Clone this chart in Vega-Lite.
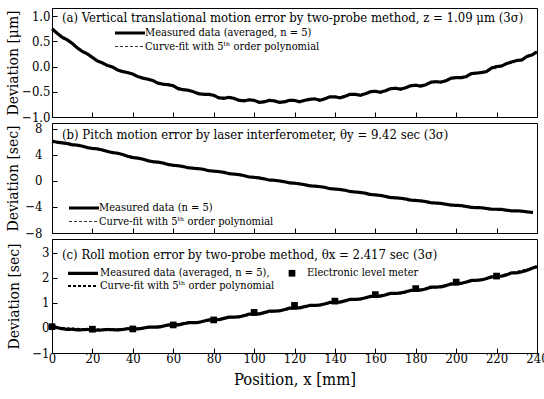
{
  "$schema": "https://vega.github.io/schema/vega-lite/v6.json",
  "background": "white",
  "padding": {"left": 5, "top": 7, "right": 5, "bottom": 5},
  "config": {
    "font": "DejaVu Serif Condensed, DejaVu Serif",
    "view": {"stroke": "black", "strokeWidth": 1},
    "axis": {"labelFont": "DejaVu Serif Condensed, DejaVu Serif", "labelFontSize": 13, "labelColor": "black", "titleFont": "DejaVu Serif Condensed, DejaVu Serif", "titleFontSize": 15.5, "titleFontWeight": "normal", "titleColor": "black", "domainColor": "black", "tickColor": "black", "grid": false, "tickSize": -5, "labelPadding": 7, "labelOverlap": false, "labelFlush": false, "labelBound": false},
    "legend": {"labelFont": "DejaVu Serif Condensed, DejaVu Serif", "labelFontSize": 11, "labelColor": "black", "labelLimit": 400, "symbolStrokeColor": "black", "symbolSize": 100, "symbolType": "M-1,0H5", "padding": 0, "rowPadding": 0, "labelOffset": 18, "columnPadding": 22, "title": null},
    "title": {"font": "DejaVu Serif Condensed, DejaVu Serif", "fontSize": 13, "fontWeight": "normal", "color": "black", "anchor": "start", "frame": "group", "offset": -17, "dx": 10},
    "concat": {"spacing": 6}
  },
  "bounds": "flush",
  "resolve": {"scale": {"strokeDash": "independent", "strokeWidth": "independent"}, "legend": {"strokeDash": "independent", "strokeWidth": "independent"}},
  "datasets": {
    "a": [
      {"x": 0, "y": 0.75, "s": "m"}, {"x": 2.5, "y": 0.66, "s": "m"}, {"x": 5, "y": 0.58, "s": "m"}, {"x": 7.5, "y": 0.53, "s": "m"}, {"x": 10, "y": 0.46, "s": "m"}, {"x": 12.5, "y": 0.37, "s": "m"}, {"x": 15, "y": 0.3, "s": "m"}, {"x": 17.5, "y": 0.25, "s": "m"}, {"x": 20, "y": 0.18, "s": "m"}, {"x": 22.5, "y": 0.11, "s": "m"}, {"x": 25, "y": 0.07, "s": "m"}, {"x": 27.5, "y": 0.02, "s": "m"}, {"x": 30, "y": -0.01, "s": "m"}, {"x": 32.5, "y": -0.07, "s": "m"}, {"x": 35, "y": -0.1, "s": "m"}, {"x": 37.5, "y": -0.12, "s": "m"}, {"x": 40, "y": -0.15, "s": "m"}, {"x": 42.5, "y": -0.2, "s": "m"}, {"x": 45, "y": -0.23, "s": "m"}, {"x": 47.5, "y": -0.25, "s": "m"}, {"x": 50, "y": -0.28, "s": "m"}, {"x": 52.5, "y": -0.33, "s": "m"}, {"x": 55, "y": -0.35, "s": "m"}, {"x": 57.5, "y": -0.36, "s": "m"}, {"x": 60, "y": -0.38, "s": "m"}, {"x": 62.5, "y": -0.44, "s": "m"}, {"x": 65, "y": -0.46, "s": "m"}, {"x": 67.5, "y": -0.47, "s": "m"}, {"x": 70, "y": -0.5, "s": "m"}, {"x": 72.5, "y": -0.54, "s": "m"}, {"x": 75, "y": -0.55, "s": "m"}, {"x": 77.5, "y": -0.55, "s": "m"}, {"x": 80, "y": -0.57, "s": "m"}, {"x": 82.5, "y": -0.62, "s": "m"}, {"x": 85, "y": -0.63, "s": "m"}, {"x": 87.5, "y": -0.61, "s": "m"}, {"x": 90, "y": -0.63, "s": "m"}, {"x": 92.5, "y": -0.67, "s": "m"}, {"x": 95, "y": -0.68, "s": "m"}, {"x": 97.5, "y": -0.66, "s": "m"}, {"x": 100, "y": -0.67, "s": "m"}, {"x": 102.5, "y": -0.71, "s": "m"}, {"x": 105, "y": -0.7, "s": "m"}, {"x": 107.5, "y": -0.67, "s": "m"}, {"x": 110, "y": -0.68, "s": "m"}, {"x": 112.5, "y": -0.71, "s": "m"}, {"x": 115, "y": -0.7, "s": "m"}, {"x": 117.5, "y": -0.67, "s": "m"}, {"x": 120, "y": -0.67, "s": "m"}, {"x": 122.5, "y": -0.7, "s": "m"}, {"x": 125, "y": -0.67, "s": "m"}, {"x": 127.5, "y": -0.65, "s": "m"}, {"x": 130, "y": -0.64, "s": "m"}, {"x": 132.5, "y": -0.67, "s": "m"}, {"x": 135, "y": -0.64, "s": "m"}, {"x": 137.5, "y": -0.6, "s": "m"}, {"x": 140, "y": -0.6, "s": "m"}, {"x": 142.5, "y": -0.62, "s": "m"}, {"x": 145, "y": -0.59, "s": "m"}, {"x": 147.5, "y": -0.55, "s": "m"}, {"x": 150, "y": -0.55, "s": "m"}, {"x": 152.5, "y": -0.57, "s": "m"}, {"x": 155, "y": -0.54, "s": "m"}, {"x": 157.5, "y": -0.5, "s": "m"}, {"x": 160, "y": -0.49, "s": "m"}, {"x": 162.5, "y": -0.51, "s": "m"}, {"x": 165, "y": -0.48, "s": "m"}, {"x": 167.5, "y": -0.44, "s": "m"}, {"x": 170, "y": -0.43, "s": "m"}, {"x": 172.5, "y": -0.45, "s": "m"}, {"x": 175, "y": -0.42, "s": "m"}, {"x": 177.5, "y": -0.38, "s": "m"}, {"x": 180, "y": -0.37, "s": "m"}, {"x": 182.5, "y": -0.39, "s": "m"}, {"x": 185, "y": -0.36, "s": "m"}, {"x": 187.5, "y": -0.31, "s": "m"}, {"x": 190, "y": -0.3, "s": "m"}, {"x": 192.5, "y": -0.31, "s": "m"}, {"x": 195, "y": -0.28, "s": "m"}, {"x": 197.5, "y": -0.23, "s": "m"}, {"x": 200, "y": -0.22, "s": "m"}, {"x": 202.5, "y": -0.22, "s": "m"}, {"x": 205, "y": -0.2, "s": "m"}, {"x": 207.5, "y": -0.14, "s": "m"}, {"x": 210, "y": -0.13, "s": "m"}, {"x": 212.5, "y": -0.12, "s": "m"}, {"x": 215, "y": -0.1, "s": "m"}, {"x": 217.5, "y": -0.03, "s": "m"}, {"x": 220, "y": 0.0, "s": "m"}, {"x": 222.5, "y": 0.01, "s": "m"}, {"x": 225, "y": 0.06, "s": "m"}, {"x": 227.5, "y": 0.09, "s": "m"}, {"x": 230, "y": 0.12, "s": "m"}, {"x": 232.5, "y": 0.13, "s": "m"}, {"x": 235, "y": 0.2, "s": "m"}, {"x": 237.5, "y": 0.23, "s": "m"}, {"x": 240, "y": 0.29, "s": "m"},
      {"x": 0, "y": 0.73, "s": "f"}, {"x": 10, "y": 0.45, "s": "f"}, {"x": 20, "y": 0.18, "s": "f"}, {"x": 30, "y": -0.02, "s": "f"}, {"x": 40, "y": -0.16, "s": "f"}, {"x": 50, "y": -0.29, "s": "f"}, {"x": 60, "y": -0.39, "s": "f"}, {"x": 70, "y": -0.49, "s": "f"}, {"x": 80, "y": -0.58, "s": "f"}, {"x": 90, "y": -0.64, "s": "f"}, {"x": 100, "y": -0.68, "s": "f"}, {"x": 110, "y": -0.69, "s": "f"}, {"x": 120, "y": -0.68, "s": "f"}, {"x": 130, "y": -0.65, "s": "f"}, {"x": 140, "y": -0.61, "s": "f"}, {"x": 150, "y": -0.56, "s": "f"}, {"x": 160, "y": -0.5, "s": "f"}, {"x": 170, "y": -0.44, "s": "f"}, {"x": 180, "y": -0.38, "s": "f"}, {"x": 190, "y": -0.31, "s": "f"}, {"x": 200, "y": -0.23, "s": "f"}, {"x": 210, "y": -0.14, "s": "f"}, {"x": 220, "y": -0.03, "s": "f"}, {"x": 230, "y": 0.11, "s": "f"}, {"x": 240, "y": 0.28, "s": "f"}
    ],
    "b": [
      {"x": 0, "y": 6.1, "s": "m"}, {"x": 2.5, "y": 5.95, "s": "m"}, {"x": 5, "y": 5.85, "s": "m"}, {"x": 7.5, "y": 5.75, "s": "m"}, {"x": 10, "y": 5.55, "s": "m"}, {"x": 12.5, "y": 5.5, "s": "m"}, {"x": 15, "y": 5.35, "s": "m"}, {"x": 17.5, "y": 5.12, "s": "m"}, {"x": 20, "y": 5.0, "s": "m"}, {"x": 22.5, "y": 4.92, "s": "m"}, {"x": 25, "y": 4.75, "s": "m"}, {"x": 27.5, "y": 4.52, "s": "m"}, {"x": 30, "y": 4.35, "s": "m"}, {"x": 32.5, "y": 4.25, "s": "m"}, {"x": 35, "y": 4.05, "s": "m"}, {"x": 37.5, "y": 3.78, "s": "m"}, {"x": 40, "y": 3.6, "s": "m"}, {"x": 42.5, "y": 3.5, "s": "m"}, {"x": 45, "y": 3.35, "s": "m"}, {"x": 47.5, "y": 3.1, "s": "m"}, {"x": 50, "y": 2.95, "s": "m"}, {"x": 52.5, "y": 2.88, "s": "m"}, {"x": 55, "y": 2.75, "s": "m"}, {"x": 57.5, "y": 2.52, "s": "m"}, {"x": 60, "y": 2.4, "s": "m"}, {"x": 62.5, "y": 2.33, "s": "m"}, {"x": 65, "y": 2.2, "s": "m"}, {"x": 67.5, "y": 2.02, "s": "m"}, {"x": 70, "y": 1.95, "s": "m"}, {"x": 72.5, "y": 1.88, "s": "m"}, {"x": 75, "y": 1.78, "s": "m"}, {"x": 77.5, "y": 1.58, "s": "m"}, {"x": 80, "y": 1.5, "s": "m"}, {"x": 82.5, "y": 1.44, "s": "m"}, {"x": 85, "y": 1.32, "s": "m"}, {"x": 87.5, "y": 1.12, "s": "m"}, {"x": 90, "y": 1.05, "s": "m"}, {"x": 92.5, "y": 0.97, "s": "m"}, {"x": 95, "y": 0.82, "s": "m"}, {"x": 97.5, "y": 0.62, "s": "m"}, {"x": 100, "y": 0.55, "s": "m"}, {"x": 102.5, "y": 0.46, "s": "m"}, {"x": 105, "y": 0.32, "s": "m"}, {"x": 107.5, "y": 0.14, "s": "m"}, {"x": 110, "y": 0.1, "s": "m"}, {"x": 112.5, "y": 0.0, "s": "m"}, {"x": 115, "y": -0.12, "s": "m"}, {"x": 117.5, "y": -0.3, "s": "m"}, {"x": 120, "y": -0.35, "s": "m"}, {"x": 122.5, "y": -0.45, "s": "m"}, {"x": 125, "y": -0.58, "s": "m"}, {"x": 127.5, "y": -0.75, "s": "m"}, {"x": 130, "y": -0.8, "s": "m"}, {"x": 132.5, "y": -0.88, "s": "m"}, {"x": 135, "y": -0.98, "s": "m"}, {"x": 137.5, "y": -1.18, "s": "m"}, {"x": 140, "y": -1.25, "s": "m"}, {"x": 142.5, "y": -1.32, "s": "m"}, {"x": 145, "y": -1.43, "s": "m"}, {"x": 147.5, "y": -1.62, "s": "m"}, {"x": 150, "y": -1.7, "s": "m"}, {"x": 152.5, "y": -1.77, "s": "m"}, {"x": 155, "y": -1.88, "s": "m"}, {"x": 157.5, "y": -2.08, "s": "m"}, {"x": 160, "y": -2.15, "s": "m"}, {"x": 162.5, "y": -2.22, "s": "m"}, {"x": 165, "y": -2.38, "s": "m"}, {"x": 167.5, "y": -2.55, "s": "m"}, {"x": 170, "y": -2.6, "s": "m"}, {"x": 172.5, "y": -2.66, "s": "m"}, {"x": 175, "y": -2.78, "s": "m"}, {"x": 177.5, "y": -2.95, "s": "m"}, {"x": 180, "y": -3.0, "s": "m"}, {"x": 182.5, "y": -3.06, "s": "m"}, {"x": 185, "y": -3.18, "s": "m"}, {"x": 187.5, "y": -3.35, "s": "m"}, {"x": 190, "y": -3.4, "s": "m"}, {"x": 192.5, "y": -3.45, "s": "m"}, {"x": 195, "y": -3.58, "s": "m"}, {"x": 197.5, "y": -3.72, "s": "m"}, {"x": 200, "y": -3.75, "s": "m"}, {"x": 202.5, "y": -3.8, "s": "m"}, {"x": 205, "y": -3.93, "s": "m"}, {"x": 207.5, "y": -4.06, "s": "m"}, {"x": 210, "y": -4.1, "s": "m"}, {"x": 212.5, "y": -4.12, "s": "m"}, {"x": 215, "y": -4.23, "s": "m"}, {"x": 217.5, "y": -4.35, "s": "m"}, {"x": 220, "y": -4.35, "s": "m"}, {"x": 222.5, "y": -4.38, "s": "m"}, {"x": 225, "y": -4.5, "s": "m"}, {"x": 227.5, "y": -4.6, "s": "m"}, {"x": 230, "y": -4.6, "s": "m"}, {"x": 232.5, "y": -4.64, "s": "m"}, {"x": 235, "y": -4.75, "s": "m"}, {"x": 238, "y": -4.85, "s": "m"},
      {"x": 0, "y": 6.05, "s": "f"}, {"x": 20, "y": 5.0, "s": "f"}, {"x": 40, "y": 3.65, "s": "f"}, {"x": 60, "y": 2.4, "s": "f"}, {"x": 80, "y": 1.5, "s": "f"}, {"x": 100, "y": 0.55, "s": "f"}, {"x": 120, "y": -0.35, "s": "f"}, {"x": 140, "y": -1.25, "s": "f"}, {"x": 160, "y": -2.15, "s": "f"}, {"x": 180, "y": -3.0, "s": "f"}, {"x": 200, "y": -3.75, "s": "f"}, {"x": 220, "y": -4.35, "s": "f"}, {"x": 238, "y": -4.85, "s": "f"}
    ],
    "c": [
      {"x": 0, "y": 0.1, "s": "m"}, {"x": 1.5, "y": 0.04, "s": "m"}, {"x": 3, "y": 0.0, "s": "m"}, {"x": 5, "y": -0.03, "s": "m"}, {"x": 7.5, "y": -0.06, "s": "m"}, {"x": 10, "y": -0.05, "s": "m"}, {"x": 12.5, "y": -0.08, "s": "m"}, {"x": 15, "y": -0.07, "s": "m"}, {"x": 17.5, "y": -0.06, "s": "m"}, {"x": 20, "y": -0.07, "s": "m"}, {"x": 22.5, "y": -0.09, "s": "m"}, {"x": 25, "y": -0.08, "s": "m"}, {"x": 27.5, "y": -0.06, "s": "m"}, {"x": 30, "y": -0.07, "s": "m"}, {"x": 32.5, "y": -0.08, "s": "m"}, {"x": 35, "y": -0.06, "s": "m"}, {"x": 37.5, "y": -0.03, "s": "m"}, {"x": 40, "y": -0.04, "s": "m"}, {"x": 42.5, "y": -0.04, "s": "m"}, {"x": 45, "y": -0.01, "s": "m"}, {"x": 47.5, "y": 0.03, "s": "m"}, {"x": 50, "y": 0.03, "s": "m"}, {"x": 52.5, "y": 0.03, "s": "m"}, {"x": 55, "y": 0.07, "s": "m"}, {"x": 57.5, "y": 0.12, "s": "m"}, {"x": 60, "y": 0.12, "s": "m"}, {"x": 62.5, "y": 0.12, "s": "m"}, {"x": 65, "y": 0.17, "s": "m"}, {"x": 67.5, "y": 0.21, "s": "m"}, {"x": 70, "y": 0.21, "s": "m"}, {"x": 72.5, "y": 0.22, "s": "m"}, {"x": 75, "y": 0.27, "s": "m"}, {"x": 77.5, "y": 0.32, "s": "m"}, {"x": 80, "y": 0.32, "s": "m"}, {"x": 82.5, "y": 0.33, "s": "m"}, {"x": 85, "y": 0.38, "s": "m"}, {"x": 87.5, "y": 0.43, "s": "m"}, {"x": 90, "y": 0.43, "s": "m"}, {"x": 92.5, "y": 0.44, "s": "m"}, {"x": 95, "y": 0.49, "s": "m"}, {"x": 97.5, "y": 0.55, "s": "m"}, {"x": 100, "y": 0.55, "s": "m"}, {"x": 102.5, "y": 0.56, "s": "m"}, {"x": 105, "y": 0.61, "s": "m"}, {"x": 107.5, "y": 0.67, "s": "m"}, {"x": 110, "y": 0.67, "s": "m"}, {"x": 112.5, "y": 0.68, "s": "m"}, {"x": 115, "y": 0.73, "s": "m"}, {"x": 117.5, "y": 0.79, "s": "m"}, {"x": 120, "y": 0.79, "s": "m"}, {"x": 122.5, "y": 0.8, "s": "m"}, {"x": 125, "y": 0.85, "s": "m"}, {"x": 127.5, "y": 0.9, "s": "m"}, {"x": 130, "y": 0.9, "s": "m"}, {"x": 132.5, "y": 0.91, "s": "m"}, {"x": 135, "y": 0.96, "s": "m"}, {"x": 137.5, "y": 1.02, "s": "m"}, {"x": 140, "y": 1.02, "s": "m"}, {"x": 142.5, "y": 1.03, "s": "m"}, {"x": 145, "y": 1.08, "s": "m"}, {"x": 147.5, "y": 1.14, "s": "m"}, {"x": 150, "y": 1.14, "s": "m"}, {"x": 152.5, "y": 1.15, "s": "m"}, {"x": 155, "y": 1.2, "s": "m"}, {"x": 157.5, "y": 1.26, "s": "m"}, {"x": 160, "y": 1.26, "s": "m"}, {"x": 162.5, "y": 1.27, "s": "m"}, {"x": 165, "y": 1.32, "s": "m"}, {"x": 167.5, "y": 1.38, "s": "m"}, {"x": 170, "y": 1.38, "s": "m"}, {"x": 172.5, "y": 1.39, "s": "m"}, {"x": 175, "y": 1.44, "s": "m"}, {"x": 177.5, "y": 1.5, "s": "m"}, {"x": 180, "y": 1.5, "s": "m"}, {"x": 182.5, "y": 1.51, "s": "m"}, {"x": 185, "y": 1.56, "s": "m"}, {"x": 187.5, "y": 1.63, "s": "m"}, {"x": 190, "y": 1.63, "s": "m"}, {"x": 192.5, "y": 1.64, "s": "m"}, {"x": 195, "y": 1.69, "s": "m"}, {"x": 197.5, "y": 1.76, "s": "m"}, {"x": 200, "y": 1.76, "s": "m"}, {"x": 202.5, "y": 1.78, "s": "m"}, {"x": 205, "y": 1.83, "s": "m"}, {"x": 207.5, "y": 1.9, "s": "m"}, {"x": 210, "y": 1.9, "s": "m"}, {"x": 212.5, "y": 1.92, "s": "m"}, {"x": 215, "y": 1.97, "s": "m"}, {"x": 217.5, "y": 2.04, "s": "m"}, {"x": 220, "y": 2.04, "s": "m"}, {"x": 222.5, "y": 2.07, "s": "m"}, {"x": 225, "y": 2.12, "s": "m"}, {"x": 227.5, "y": 2.2, "s": "m"}, {"x": 230, "y": 2.2, "s": "m"}, {"x": 232.5, "y": 2.24, "s": "m"}, {"x": 235, "y": 2.3, "s": "m"}, {"x": 237.5, "y": 2.38, "s": "m"}, {"x": 240, "y": 2.45, "s": "m"},
      {"x": 0, "y": 0.02, "s": "f"}, {"x": 20, "y": -0.07, "s": "f"}, {"x": 40, "y": -0.04, "s": "f"}, {"x": 60, "y": 0.12, "s": "f"}, {"x": 80, "y": 0.32, "s": "f"}, {"x": 100, "y": 0.55, "s": "f"}, {"x": 120, "y": 0.79, "s": "f"}, {"x": 140, "y": 1.02, "s": "f"}, {"x": 160, "y": 1.26, "s": "f"}, {"x": 180, "y": 1.5, "s": "f"}, {"x": 200, "y": 1.76, "s": "f"}, {"x": 220, "y": 2.04, "s": "f"}, {"x": 240, "y": 2.43, "s": "f"}
    ],
    "el": [
      {"x": 0, "y": 0.05}, {"x": 20, "y": -0.05}, {"x": 40, "y": -0.04}, {"x": 60, "y": 0.12}, {"x": 80, "y": 0.32}, {"x": 100, "y": 0.62}, {"x": 120, "y": 0.9}, {"x": 140, "y": 1.07}, {"x": 160, "y": 1.33}, {"x": 180, "y": 1.57}, {"x": 200, "y": 1.83}, {"x": 220, "y": 2.07}
    ]
  },
  "vconcat": [
    {
      "width": 485, "height": 109,
      "title": {"text": "(a) Vertical translational motion error by two-probe method, z = 1.09 μm (3σ)"},
      "data": {"name": "a"},
      "mark": {"type": "line", "color": "black"},
      "encoding": {
        "x": {"field": "x", "type": "quantitative", "scale": {"domain": [0, 240], "nice": false}, "axis": {"values": [20, 40, 60, 80, 100, 120, 140, 160, 180, 200, 220], "labels": false, "title": null}},
        "y": {"field": "y", "type": "quantitative", "scale": {"domain": [-1, 1.16], "nice": false, "zero": false}, "axis": {"values": [-1, -0.5, 0, 0.5, 1], "format": ".1f", "title": "Deviation [μm]", "titlePadding": 1, "labelPadding": 7}},
        "strokeWidth": {"field": "s", "type": "nominal", "scale": {"domain": ["m", "f"], "range": [3.2, 0.8]}, "legend": null},
        "strokeDash": {"field": "s", "type": "nominal", "scale": {"domain": ["m", "f"], "range": [[1, 0], [3, 2]]},
          "legend": {"orient": "none", "legendX": 61, "legendY": 18, "labelExpr": "datum.value == 'm' ? 'Measured data (averaged, n = 5)' : 'Curve-fit with 5ᵗʰ order polynomial'",
            "encode": {"symbols": {"update": {"strokeWidth": {"signal": "datum.value == 'm' ? 3 : 0.8"}}}}}}
      }
    },
    {
      "width": 485, "height": 110,
      "title": {"text": "(b) Pitch motion error by laser interferometer, θy = 9.42 sec  (3σ)", "offset": -19},
      "data": {"name": "b"},
      "mark": {"type": "line", "color": "black"},
      "encoding": {
        "x": {"field": "x", "type": "quantitative", "scale": {"domain": [0, 240], "nice": false}, "axis": {"values": [20, 40, 60, 80, 100, 120, 140, 160, 180, 200, 220], "labels": false, "title": null}},
        "y": {"field": "y", "type": "quantitative", "scale": {"domain": [-8, 8.9], "nice": false, "zero": false}, "axis": {"values": [-8, -4, 0, 4, 8], "title": "Deviation [sec]", "titlePadding": 4, "labelPadding": 15}},
        "strokeWidth": {"field": "s", "type": "nominal", "scale": {"domain": ["m", "f"], "range": [3.2, 0.8]}, "legend": null},
        "strokeDash": {"field": "s", "type": "nominal", "scale": {"domain": ["m", "f"], "range": [[1, 0], [3, 2]]},
          "legend": {"orient": "none", "legendX": 15, "legendY": 78, "labelExpr": "datum.value == 'm' ? 'Measured data (n = 5)' : 'Curve-fit with 5ᵗʰ order polynomial'",
            "encode": {"symbols": {"update": {"strokeWidth": {"signal": "datum.value == 'm' ? 3 : 0.8"}}}}}}
      }
    },
    {
      "width": 485, "height": 114,
      "title": {"text": "(c) Roll motion error by two-probe method, θx = 2.417 sec  (3σ)", "offset": -23},
      "resolve": {"scale": {"strokeDash": "shared", "strokeWidth": "shared"}},
      "layer": [
        {
          "data": {"name": "c"},
          "mark": {"type": "line", "color": "black"},
          "encoding": {
            "x": {"field": "x", "type": "quantitative", "scale": {"domain": [0, 240], "nice": false}, "axis": {"values": [0, 20, 40, 60, 80, 100, 120, 140, 160, 180, 200, 220, 240], "title": "Position, x [mm]", "titleFontSize": 16.5, "titlePadding": 6, "labelPadding": 4}},
            "y": {"field": "y", "type": "quantitative", "scale": {"domain": [-1, 3.55], "nice": false, "zero": false}, "axis": {"values": [-1, 0, 1, 2, 3], "title": "Deviation [sec]", "titlePadding": 10, "labelPadding": 8, "labelOverlap": false}},
            "strokeWidth": {"field": "s", "type": "nominal", "scale": {"domain": ["m", "f", "e"], "range": [3.2, 0.8, 3.2]}, "legend": null},
            "strokeDash": {"field": "s", "type": "nominal", "scale": {"domain": ["m", "f", "e"], "range": [[1, 0], [3, 2], [1, 0]]},
              "legend": {"orient": "none", "legendX": 16, "legendY": 27, "columns": 2, "columnPadding": -43, "labelExpr": "datum.value == 'm' ? 'Measured data (averaged, n = 5),' : (datum.value == 'e' ? 'Electronic level meter' : 'Curve-fit with 5ᵗʰ order polynomial')",
                "encode": {"symbols": {"update": {
                  "stroke": {"signal": "datum.value == 'e' ? 'transparent' : 'black'"},
                  "strokeWidth": {"signal": "datum.value == 'm' ? 3 : (datum.value == 'e' ? 0 : 0.8)"},
                  "shape": {"signal": "datum.value == 'e' ? 'square' : 'M-1,0H5'"},
                  "size": {"signal": "datum.value == 'e' ? 45 : 100"},
                  "fill": {"signal": "datum.value == 'e' ? 'black' : 'transparent'"},
                  "opacity": {"value": 1},
                  "xc": {"signal": "datum.value == 'e' ? 17 : 5"}
                }}}}}
          }
        },
        {
          "data": {"name": "el"},
          "mark": {"type": "square", "color": "black", "filled": true, "size": 45, "opacity": 1},
          "encoding": {
            "x": {"field": "x", "type": "quantitative", "axis": {"values": [0, 20, 40, 60, 80, 100, 120, 140, 160, 180, 200, 220, 240], "title": "Position, x [mm]", "titleFontSize": 16.5, "titlePadding": 6, "labelPadding": 4}},
            "y": {"field": "y", "type": "quantitative", "axis": {"values": [-1, 0, 1, 2, 3], "title": "Deviation [sec]", "titlePadding": 10, "labelPadding": 8, "labelOverlap": false}}
          }
        }
      ]
    }
  ]
}
